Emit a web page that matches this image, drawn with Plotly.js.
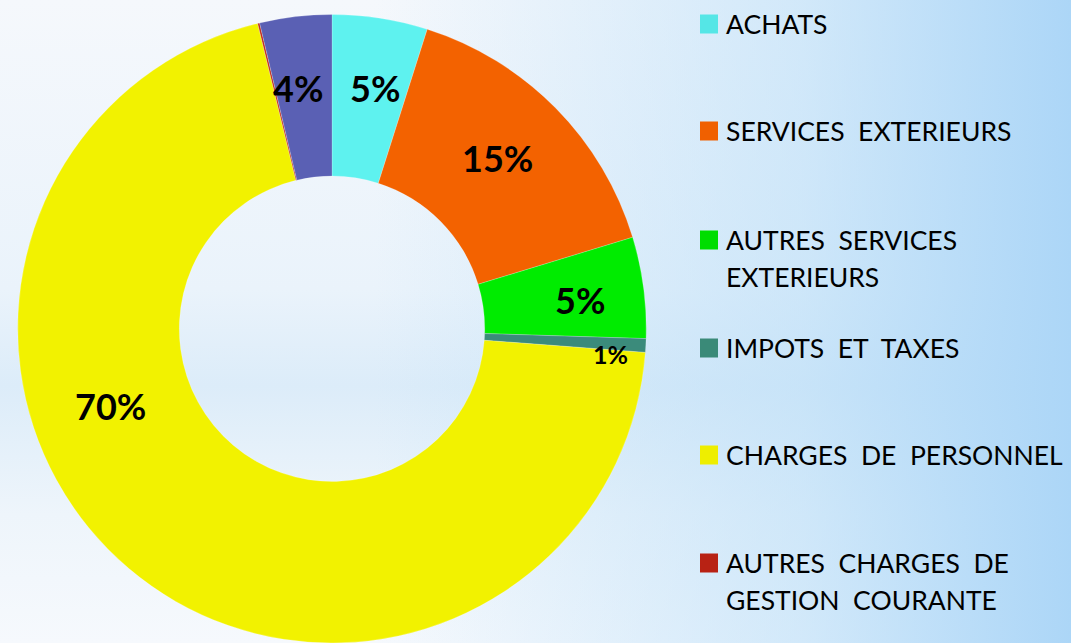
<!DOCTYPE html>
<html><head><meta charset="utf-8">
<script src="https://cdn.plot.ly/plotly-3.0.1.min.js"></script>
<style>
html,body{margin:0;padding:0;}
body{width:1071px;height:643px;overflow:hidden;
background:
 linear-gradient(90deg, rgba(180,218,247,0) 35%, rgba(186,222,248,0.6) 75%, rgba(172,214,247,1) 100%),
 linear-gradient(180deg, #f5f8fc 0%, #eaf3fb 45%, #dcecf9 60%, #eef5fb 80%, #f6f9fd 100%);}
#chart{width:1071px;height:643px;}
</style></head>
<body><div id="chart"></div>
<script>
const categories = ["ACHATS","SERVICES EXTERIEURS","AUTRES SERVICES EXTERIEURS","IMPOTS ET TAXES","CHARGES DE PERSONNEL","AUTRES CHARGES DE GESTION COURANTE","DOTATIONS"];
const values = [4.9, 15.4, 5.2, 0.7, 70.0, 0.1, 3.7];
const colors = ["#5ef2ef","#f36200","#00ec00","#3b8b7b","#f2f200","#c02a18","#5a60b4"];
const legendLines = [["ACHATS"],["SERVICES  EXTERIEURS"],["AUTRES  SERVICES","EXTERIEURS"],["IMPOTS  ET  TAXES"],["CHARGES  DE  PERSONNEL"],["AUTRES  CHARGES  DE","GESTION  COURANTE"]];
const legendColors = ["#55e6e6","#f06000","#00dd00","#3a8a78","#eeee00","#b82214"];

const total = values.reduce((a,b)=>a+b,0);
const pct = values.map(v => Math.round(v/total*100) + "%");
// label anchor positions (pixels), as placed in the original chart
const labelPos = {0:{x:375,y:88,s:36}, 1:{x:497,y:158,s:36}, 2:{x:580,y:300,s:36}, 3:{x:610,y:354,s:25}, 4:{x:110,y:406,s:36}, 6:{x:298,y:88,s:36}};

const W = 1071, H = 643;
const trace = {
  type:"pie", labels:categories, values:values,
  textinfo:"none",
  marker:{colors:colors, line:{color:"rgba(255,255,255,0.35)", width:0.6}},
  hole:0.486, sort:false, direction:"clockwise", rotation:0,
  domain:{x:[(332-314.5)/W,(332+314.5)/W], y:[0,(643-14.5)/H]},
  showlegend:false, hoverinfo:"label+percent"
};

const annotations = [];
const shapes = [];
Object.keys(labelPos).forEach(k => {
  const p = labelPos[k];
  annotations.push({xref:"paper",yref:"paper",x:p.x/W,y:1-p.y/H,xanchor:"center",yanchor:"middle",
    text:"<b>"+pct[k]+"</b>",showarrow:false,
    font:{family:"Lato, 'Open Sans', sans-serif",size:p.s,color:"#000"}});
});
const rowY = [24,131,240,348,455,563];
legendLines.forEach((lines,i) => {
  const y = rowY[i];
  shapes.push({type:"rect",xref:"paper",yref:"paper",x0:700/W,x1:718/W,y0:1-(y-9.5)/H,y1:1-(y+9.5)/H,
    fillcolor:legendColors[i],line:{width:0}});
  lines.forEach((ln,j) => {
    annotations.push({xref:"paper",yref:"paper",x:724/W,y:1-(y+j*37)/H,xanchor:"left",yanchor:"middle",
      text:ln.replace(/ /g,"\u00a0"),showarrow:false,
      font:{family:"Lato, 'Open Sans', sans-serif",size:26.5,color:"#000"}});
  });
});

const layout = {
  width:W, height:H, margin:{l:0,r:0,t:0,b:0},
  paper_bgcolor:"rgba(0,0,0,0)", plot_bgcolor:"rgba(0,0,0,0)",
  showlegend:false, annotations:annotations, shapes:shapes
};
Plotly.newPlot("chart",[trace],layout,{displayModeBar:false,staticPlot:true});
</script></body></html>
